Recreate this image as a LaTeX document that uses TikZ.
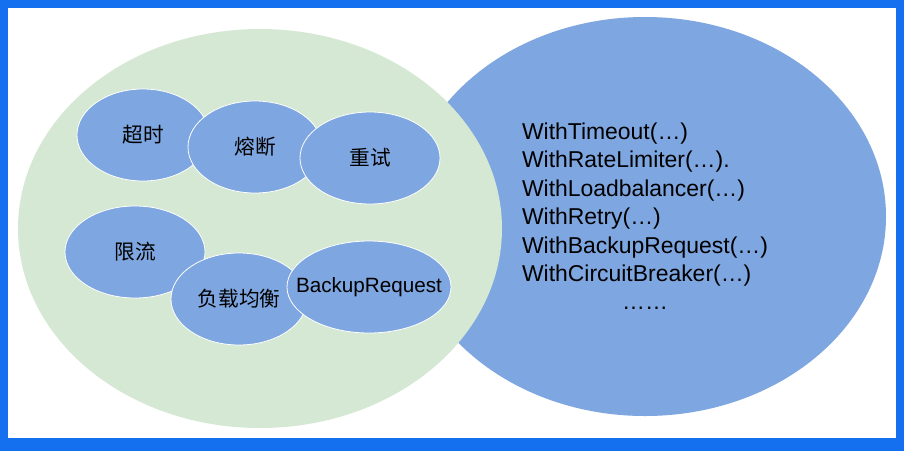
\documentclass[tikz,border=0pt]{standalone}
\usepackage{fontspec}
\setmainfont{Liberation Sans}
\newfontfamily\cjk{Noto Sans CJK SC}
\usepackage{xcolor}
\usepackage{tikz}
\definecolor{framecol}{HTML}{1570EF}
\definecolor{setgreen}{HTML}{D5E8D4}
\definecolor{setblue}{HTML}{7EA6E0}
\tikzset{
  feature/.style={fill=setblue, draw=white, line width=0.6pt},
  featurelabel/.style={font=\fontsize{15.5}{18}\selectfont, inner sep=0pt},
  optionlist/.style={font=\fontsize{17.2}{21.3}\selectfont, inner sep=0pt}
}
\begin{document}
\begin{tikzpicture}[x=0.75pt, y=-0.75pt]
  \useasboundingbox (0,0) rectangle (904,451);
  \fill[framecol] (0,0) rectangle (904,451);
  \fill[white] (8,8) rectangle (896,438);
  \fill[setblue] (645,216.5) ellipse [x radius=241, y radius=199.5];
  \fill[setgreen] (260,228.5) ellipse [x radius=242, y radius=199.5];
  \foreach \cx/\cy/\rx/\nm/\txt in
      {143/135/66/timeout/{\cjk 超时}, 255/147/67/breaker/{\cjk 熔断},
       370/158/70/retry/{\cjk 重试}, 135/252/70/limiter/{\cjk 限流},
       239/299/68/balancer/{\cjk 负载均衡}, 369/287/82/backup/{BackupRequest}} {
    \draw[feature] (\cx,\cy) ellipse [x radius=\rx, y radius=46];
    \node[featurelabel] (\nm) at (\cx,\cy) {\txt};
  }
  \node[optionlist] (options) at (645,219) {%
    \begin{tabular}{@{}l@{}}
      WithTimeout(…)\\
      WithRateLimiter(…).\\
      WithLoadbalancer(…)\\
      WithRetry(…)\\
      WithBackupRequest(…)\\
      WithCircuitBreaker(…)\\
      \multicolumn{1}{@{}c@{}}{……}
    \end{tabular}};
\end{tikzpicture}
\end{document}
